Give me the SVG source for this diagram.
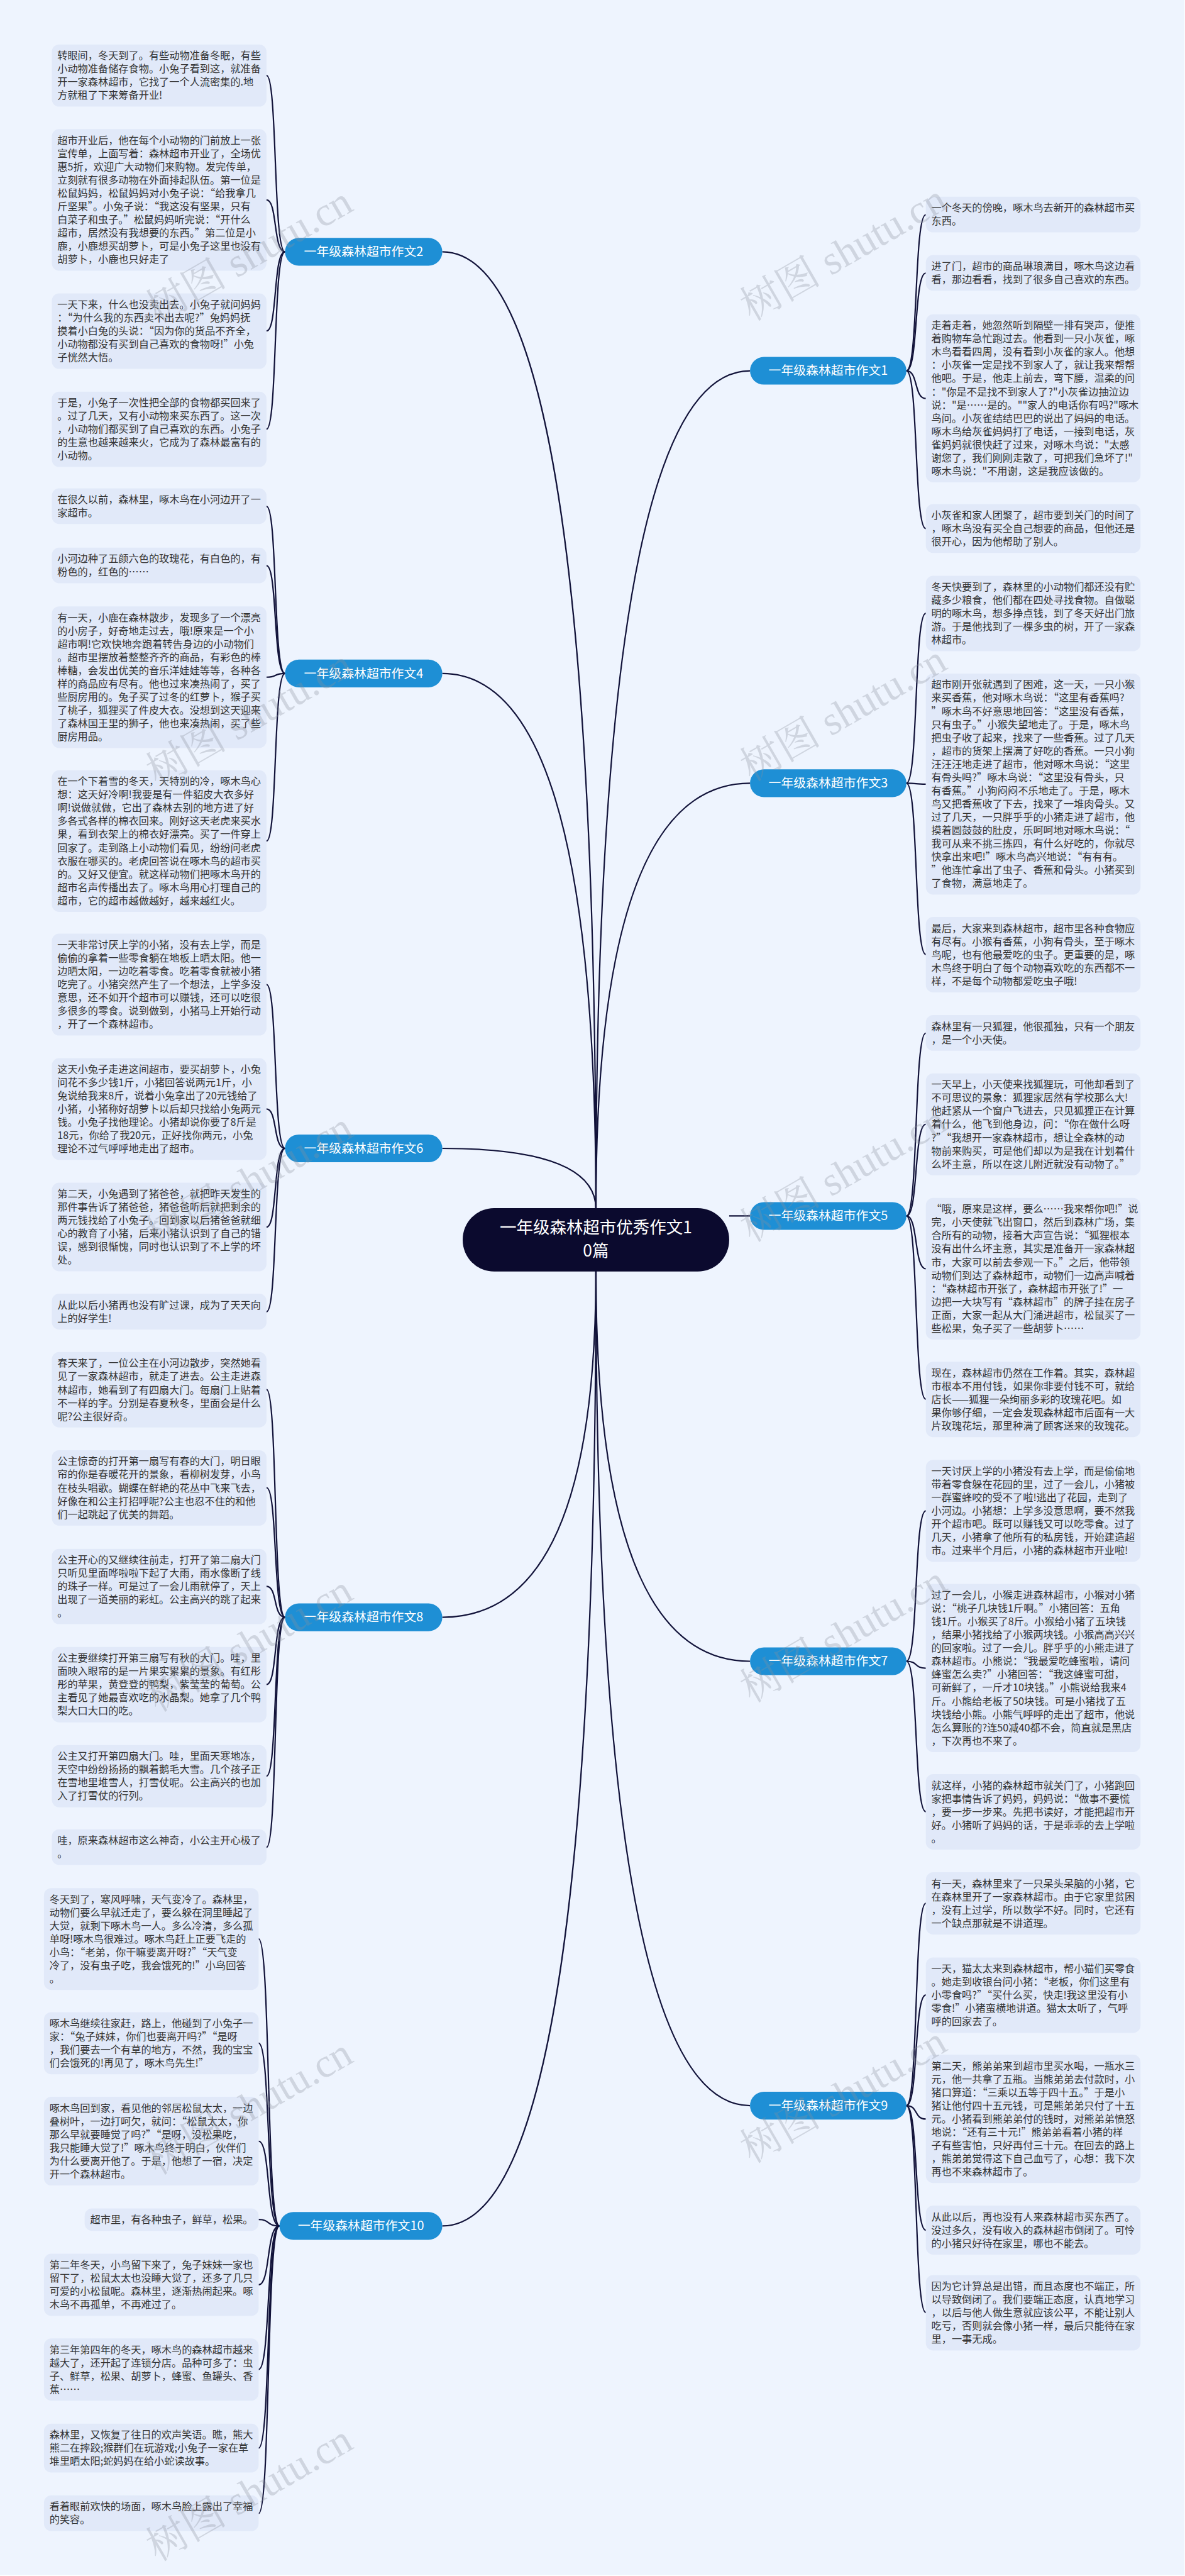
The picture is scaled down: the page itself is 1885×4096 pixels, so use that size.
<svg xmlns="http://www.w3.org/2000/svg" width="1885" height="4096" viewBox="0 0 1885 4096">
<style>
.bg{fill:#eef4fe}
.box{fill:#e1e9f9}
.t{font-family:"Noto Sans CJK SC","Noto Sans",sans-serif;font-size:22px;fill:#333333}
.pill{fill:#1e8fd5}
.pt{font-family:"Noto Sans CJK SC","Noto Sans",sans-serif;font-size:27px;fill:#ffffff;text-anchor:middle}
.cn{fill:#0b0a2e}
.ct{font-family:"Noto Sans CJK SC","Noto Sans",sans-serif;font-size:36px;fill:#ffffff;text-anchor:middle}
.ln{fill:none;stroke:#12133a;stroke-width:3}
.wm{font-family:"Liberation Serif","Noto Serif CJK SC","Noto Sans CJK SC",serif;font-size:88px;fill:#8a909c;opacity:0.3}
</style>
<g transform="scale(0.736)">
<rect class="bg" x="0" y="0" width="2560" height="5563"/>
<g id="connectors">
<path class="ln" d="M956,544 C1149,544 1288,1061 1288,2612"/>
<path class="ln" d="M956,1455 C1149,1455 1288,1744 1288,2612"/>
<path class="ln" d="M956,2481 C1149,2481 1288,2514 1288,2612"/>
<path class="ln" d="M1621,801 C1428,801 1288,1254 1288,2612"/>
<path class="ln" d="M1621,1692 C1428,1692 1288,1922 1288,2612"/>
<path class="ln" d="M1576,2627 L1621,2627"/>
<path class="ln" d="M956,3494 C1149,3494 1288,3307 1288,2745"/>
<path class="ln" d="M956,4809 C1149,4809 1288,4293 1288,2745"/>
<path class="ln" d="M1621,3589 C1428,3589 1288,3378 1288,2745"/>
<path class="ln" d="M1621,4549 C1428,4549 1288,4098 1288,2745"/>
<path class="ln" d="M616,544 C590,544 600,163 576,163"/>
<path class="ln" d="M616,544 C590,544 600,432 576,432"/>
<path class="ln" d="M616,544 C590,544 600,715 576,715"/>
<path class="ln" d="M616,544 C590,544 600,927 576,927"/>
<path class="ln" d="M616,1455 C590,1455 600,1094 576,1094"/>
<path class="ln" d="M616,1455 C590,1455 600,1222 576,1222"/>
<path class="ln" d="M616,1455 C590,1455 600,1463 576,1463"/>
<path class="ln" d="M616,1455 C590,1455 600,1817 576,1817"/>
<path class="ln" d="M616,2481 C590,2481 600,2127 576,2127"/>
<path class="ln" d="M616,2481 C590,2481 600,2396 576,2396"/>
<path class="ln" d="M616,2481 C590,2481 600,2651 576,2651"/>
<path class="ln" d="M616,2481 C590,2481 600,2834 576,2834"/>
<path class="ln" d="M616,3494 C590,3494 600,3002 576,3002"/>
<path class="ln" d="M616,3494 C590,3494 600,3214 576,3214"/>
<path class="ln" d="M616,3494 C590,3494 600,3427 576,3427"/>
<path class="ln" d="M616,3494 C590,3494 600,3639 576,3639"/>
<path class="ln" d="M616,3494 C590,3494 600,3837 576,3837"/>
<path class="ln" d="M616,3494 C590,3494 600,3991 576,3991"/>
<path class="ln" d="M604,4809 C575,4809 585,4189 559,4189"/>
<path class="ln" d="M604,4809 C575,4809 585,4414 559,4414"/>
<path class="ln" d="M604,4809 C575,4809 585,4626 559,4626"/>
<path class="ln" d="M604,4809 C575,4809 585,4795 559,4795"/>
<path class="ln" d="M604,4809 C575,4809 585,4936 559,4936"/>
<path class="ln" d="M604,4809 C575,4809 585,5119 559,5119"/>
<path class="ln" d="M604,4809 C575,4809 585,5289 559,5289"/>
<path class="ln" d="M604,4809 C575,4809 585,5430 559,5430"/>
<path class="ln" d="M1959,801 C1985,801 1975,464 2001,464"/>
<path class="ln" d="M1959,801 C1985,801 1975,590 2001,590"/>
<path class="ln" d="M1959,801 C1985,801 1975,861 2001,861"/>
<path class="ln" d="M1959,801 C1985,801 1975,1142 2001,1142"/>
<path class="ln" d="M1959,1692 C1985,1692 1975,1325 2001,1325"/>
<path class="ln" d="M1959,1692 C1985,1692 1975,1694 2001,1694"/>
<path class="ln" d="M1959,1692 C1985,1692 1975,2062 2001,2062"/>
<path class="ln" d="M1959,2627 C1985,2627 1975,2232 2001,2232"/>
<path class="ln" d="M1959,2627 C1985,2627 1975,2429 2001,2429"/>
<path class="ln" d="M1959,2627 C1985,2627 1975,2741 2001,2741"/>
<path class="ln" d="M1959,2627 C1985,2627 1975,3023 2001,3023"/>
<path class="ln" d="M1959,3589 C1985,3589 1975,3264 2001,3264"/>
<path class="ln" d="M1959,3589 C1985,3589 1975,3604 2001,3604"/>
<path class="ln" d="M1959,3589 C1985,3589 1975,3914 2001,3914"/>
<path class="ln" d="M1959,4549 C1985,4549 1975,4112 2001,4112"/>
<path class="ln" d="M1959,4549 C1985,4549 1975,4310 2001,4310"/>
<path class="ln" d="M1959,4549 C1985,4549 1975,4578 2001,4578"/>
<path class="ln" d="M1959,4549 C1985,4549 1975,4818 2001,4818"/>
<path class="ln" d="M1959,4549 C1985,4549 1975,4996 2001,4996"/>
</g>
<g id="root"><rect class="cn" x="1000" y="2610" width="576" height="137" rx="68"/><text class="ct" x="1288" y="2664">一年级森林超市优秀作文1</text><text class="ct" x="1288" y="2714">0篇</text></g>
<g id="b2"><rect class="pill" x="616" y="514" width="340" height="60" rx="30"/><text class="pt" x="786" y="553">一年级森林超市作文2</text></g>
<g id="b4"><rect class="pill" x="616" y="1425" width="340" height="60" rx="30"/><text class="pt" x="786" y="1464">一年级森林超市作文4</text></g>
<g id="b6"><rect class="pill" x="616" y="2451" width="340" height="60" rx="30"/><text class="pt" x="786" y="2490">一年级森林超市作文6</text></g>
<g id="b8"><rect class="pill" x="616" y="3464" width="340" height="60" rx="30"/><text class="pt" x="786" y="3503">一年级森林超市作文8</text></g>
<g id="b10"><rect class="pill" x="604" y="4779" width="352" height="60" rx="30"/><text class="pt" x="780" y="4818">一年级森林超市作文10</text></g>
<g id="b1"><rect class="pill" x="1621" y="771" width="338" height="60" rx="30"/><text class="pt" x="1790" y="810">一年级森林超市作文1</text></g>
<g id="b3"><rect class="pill" x="1621" y="1662" width="338" height="60" rx="30"/><text class="pt" x="1790" y="1701">一年级森林超市作文3</text></g>
<g id="b5"><rect class="pill" x="1621" y="2597" width="338" height="60" rx="30"/><text class="pt" x="1790" y="2636">一年级森林超市作文5</text></g>
<g id="b7"><rect class="pill" x="1621" y="3559" width="338" height="60" rx="30"/><text class="pt" x="1790" y="3598">一年级森林超市作文7</text></g>
<g id="b9"><rect class="pill" x="1621" y="4519" width="338" height="60" rx="30"/><text class="pt" x="1790" y="4558">一年级森林超市作文9</text></g>

<g id="a1"><rect class="box" x="112" y="96" width="464" height="134.4" rx="16"/><text class="t" y="128"><tspan x="124">转眼间，冬天到了。有些动物准备冬眠，有些</tspan><tspan x="124" dy="28.6">小动物准备储存食物。小兔子看到这，就准备</tspan><tspan x="124" dy="28.6">开一家森林超市，它找了一个人流密集的.地</tspan><tspan x="124" dy="28.6">方就租了下来筹备开业!</tspan></text></g>
<g id="a2"><rect class="box" x="112" y="279" width="464" height="306" rx="16"/><text class="t" y="311"><tspan x="124">超市开业后，他在每个小动物的门前放上一张</tspan><tspan x="124" dy="28.6">宣传单，上面写着：森林超市开业了，全场优</tspan><tspan x="124" dy="28.6">惠5折，欢迎广大动物们来购物。发完传单，</tspan><tspan x="124" dy="28.6">立刻就有很多动物在外面排起队伍。第一位是</tspan><tspan x="124" dy="28.6">松鼠妈妈，松鼠妈妈对小兔子说：“给我拿几</tspan><tspan x="124" dy="28.6">斤坚果”。小兔子说：“我这没有坚果，只有</tspan><tspan x="124" dy="28.6">白菜子和虫子。”松鼠妈妈听完说：“开什么</tspan><tspan x="124" dy="28.6">超市，居然没有我想要的东西。”第二位是小</tspan><tspan x="124" dy="28.6">鹿，小鹿想买胡萝卜，可是小兔子这里也没有</tspan><tspan x="124" dy="28.6">胡萝卜，小鹿也只好走了</tspan></text></g>
<g id="a3"><rect class="box" x="112" y="634" width="464" height="163" rx="16"/><text class="t" y="666"><tspan x="124">一天下来，什么也没卖出去。小兔子就问妈妈</tspan><tspan x="124" dy="28.6">：“为什么我的东西卖不出去呢?”兔妈妈抚</tspan><tspan x="124" dy="28.6">摸着小白兔的头说：“因为你的货品不齐全，</tspan><tspan x="124" dy="28.6">小动物都没有买到自己喜欢的食物呀!”小兔</tspan><tspan x="124" dy="28.6">子恍然大悟。</tspan></text></g>
<g id="a4"><rect class="box" x="112" y="846" width="464" height="163" rx="16"/><text class="t" y="878"><tspan x="124">于是，小兔子一次性把全部的食物都买回来了</tspan><tspan x="124" dy="28.6">。过了几天，又有小动物来买东西了。这一次</tspan><tspan x="124" dy="28.6">，小动物们都买到了自己喜欢的东西。小兔子</tspan><tspan x="124" dy="28.6">的生意也越来越来火，它成为了森林最富有的</tspan><tspan x="124" dy="28.6">小动物。</tspan></text></g>

<g id="c4a"><rect class="box" x="112" y="1055" width="464" height="77.2" rx="16"/><text class="t" y="1087"><tspan x="124">在很久以前，森林里，啄木鸟在小河边开了一</tspan><tspan x="124" dy="28.6">家超市。</tspan></text></g>
<g id="c4b"><rect class="box" x="112" y="1183" width="464" height="77.2" rx="16"/><text class="t" y="1215"><tspan x="124">小河边种了五颜六色的玫瑰花，有白色的，有</tspan><tspan x="124" dy="28.6">粉色的，红色的……</tspan></text></g>
<g id="c4c"><rect class="box" x="112" y="1310" width="464" height="306" rx="16"/><text class="t" y="1342"><tspan x="124">有一天，小鹿在森林散步，发现多了一个漂亮</tspan><tspan x="124" dy="28.6">的小房子，好奇地走过去，哦!原来是一个小</tspan><tspan x="124" dy="28.6">超市啊!它欢快地奔跑着转告身边的小动物们</tspan><tspan x="124" dy="28.6">。超市里摆放着整整齐齐的商品，有彩色的棒</tspan><tspan x="124" dy="28.6">棒糖，会发出优美的音乐洋娃娃等等，各种各</tspan><tspan x="124" dy="28.6">样的商品应有尽有。他也过来凑热闹了，买了</tspan><tspan x="124" dy="28.6">些厨房用的。兔子买了过冬的红萝卜，猴子买</tspan><tspan x="124" dy="28.6">了桃子，狐狸买了件皮大衣。没想到这天迎来</tspan><tspan x="124" dy="28.6">了森林国王里的狮子，他也来凑热闹，买了些</tspan><tspan x="124" dy="28.6">厨房用品。</tspan></text></g>
<g id="c4d"><rect class="box" x="112" y="1664" width="464" height="306" rx="16"/><text class="t" y="1696"><tspan x="124">在一个下着雪的冬天，天特别的冷，啄木鸟心</tspan><tspan x="124" dy="28.6">想：这天好冷啊!我要是有一件貂皮大衣多好</tspan><tspan x="124" dy="28.6">啊!说做就做，它出了森林去别的地方进了好</tspan><tspan x="124" dy="28.6">多各式各样的棉衣回来。刚好这天老虎来买水</tspan><tspan x="124" dy="28.6">果，看到衣架上的棉衣好漂亮。买了一件穿上</tspan><tspan x="124" dy="28.6">回家了。走到路上小动物们看见，纷纷问老虎</tspan><tspan x="124" dy="28.6">衣服在哪买的。老虎回答说在啄木鸟的超市买</tspan><tspan x="124" dy="28.6">的。又好又便宜。就这样动物们把啄木鸟开的</tspan><tspan x="124" dy="28.6">超市名声传播出去了。啄木鸟用心打理自己的</tspan><tspan x="124" dy="28.6">超市，它的超市越做越好，越来越红火。</tspan></text></g>

<g id="c6a"><rect class="box" x="112" y="2017" width="464" height="220.2" rx="16"/><text class="t" y="2049"><tspan x="124">一天非常讨厌上学的小猪，没有去上学，而是</tspan><tspan x="124" dy="28.6">偷偷的拿着一些零食躺在地板上晒太阳。他一</tspan><tspan x="124" dy="28.6">边晒太阳，一边吃着零食。吃着零食就被小猪</tspan><tspan x="124" dy="28.6">吃完了。小猪突然产生了一个想法，上学多没</tspan><tspan x="124" dy="28.6">意思，还不如开个超市可以赚钱，还可以吃很</tspan><tspan x="124" dy="28.6">多很多的零食。说到做到，小猪马上开始行动</tspan><tspan x="124" dy="28.6">，开了一个森林超市。</tspan></text></g>
<g id="c6b"><rect class="box" x="112" y="2286" width="464" height="220.2" rx="16"/><text class="t" y="2318"><tspan x="124">这天小兔子走进这间超市，要买胡萝卜，小兔</tspan><tspan x="124" dy="28.6">问花不多少钱1斤，小猪回答说两元1斤，小</tspan><tspan x="124" dy="28.6">兔说给我来8斤，说着小兔拿出了20元钱给了</tspan><tspan x="124" dy="28.6">小猪，小猪称好胡萝卜以后却只找给小兔两元</tspan><tspan x="124" dy="28.6">钱。小兔子找他理论。小猪却说你要了8斤是</tspan><tspan x="124" dy="28.6">18元，你给了我20元，正好找你两元，小兔</tspan><tspan x="124" dy="28.6">理论不过气呼呼地走出了超市。</tspan></text></g>
<g id="c6c"><rect class="box" x="112" y="2555" width="464" height="191.6" rx="16"/><text class="t" y="2587"><tspan x="124">第二天，小兔遇到了猪爸爸，就把昨天发生的</tspan><tspan x="124" dy="28.6">那件事告诉了猪爸爸，猪爸爸听后就把剩余的</tspan><tspan x="124" dy="28.6">两元钱找给了小兔子。回到家以后猪爸爸就细</tspan><tspan x="124" dy="28.6">心的教育了小猪，后来小猪认识到了自己的错</tspan><tspan x="124" dy="28.6">误，感到很惭愧，同时也认识到了不上学的坏</tspan><tspan x="124" dy="28.6">处。</tspan></text></g>
<g id="c6d"><rect class="box" x="112" y="2795" width="464" height="77.2" rx="16"/><text class="t" y="2827"><tspan x="124">从此以后小猪再也没有旷过课，成为了天天向</tspan><tspan x="124" dy="28.6">上的好学生!</tspan></text></g>

<g id="c8a"><rect class="box" x="112" y="2921" width="464" height="163" rx="16"/><text class="t" y="2953"><tspan x="124">春天来了，一位公主在小河边散步，突然她看</tspan><tspan x="124" dy="28.6">见了一家森林超市，就走了进去。公主走进森</tspan><tspan x="124" dy="28.6">林超市，她看到了有四扇大门。每扇门上贴着</tspan><tspan x="124" dy="28.6">不一样的字。分别是春夏秋冬，里面会是什么</tspan><tspan x="124" dy="28.6">呢?公主很好奇。</tspan></text></g>
<g id="c8b"><rect class="box" x="112" y="3133" width="464" height="163" rx="16"/><text class="t" y="3165"><tspan x="124">公主惊奇的打开第一扇写有春的大门，明日眼</tspan><tspan x="124" dy="28.6">帘的你是春暖花开的景象，看柳树发芽，小鸟</tspan><tspan x="124" dy="28.6">在枝头唱歌。蝴蝶在鲜艳的花丛中飞来飞去，</tspan><tspan x="124" dy="28.6">好像在和公主打招呼呢?公主也忍不住的和他</tspan><tspan x="124" dy="28.6">们一起跳起了优美的舞蹈。</tspan></text></g>
<g id="c8c"><rect class="box" x="112" y="3346" width="464" height="163" rx="16"/><text class="t" y="3378"><tspan x="124">公主开心的又继续往前走，打开了第二扇大门</tspan><tspan x="124" dy="28.6">只听见里面哗啦啦下起了大雨，雨水像断了线</tspan><tspan x="124" dy="28.6">的珠子一样。可是过了一会儿雨就停了，天上</tspan><tspan x="124" dy="28.6">出现了一道美丽的彩虹。公主高兴的跳了起来</tspan><tspan x="124" dy="28.6">。</tspan></text></g>
<g id="c8d"><rect class="box" x="112" y="3558" width="464" height="163" rx="16"/><text class="t" y="3590"><tspan x="124">公主要继续打开第三扇写有秋的大门。哇，里</tspan><tspan x="124" dy="28.6">面映入眼帘的是一片果实累累的景象。有红彤</tspan><tspan x="124" dy="28.6">彤的苹果，黄登登的鸭梨，紫莹莹的葡萄。公</tspan><tspan x="124" dy="28.6">主看见了她最喜欢吃的水晶梨。她拿了几个鸭</tspan><tspan x="124" dy="28.6">梨大口大口的吃。</tspan></text></g>
<g id="c8e"><rect class="box" x="112" y="3770" width="464" height="134.4" rx="16"/><text class="t" y="3802"><tspan x="124">公主又打开第四扇大门。哇，里面天寒地冻，</tspan><tspan x="124" dy="28.6">天空中纷纷扬扬的飘着鹅毛大雪。几个孩子正</tspan><tspan x="124" dy="28.6">在雪地里堆雪人，打雪仗呢。公主高兴的也加</tspan><tspan x="124" dy="28.6">入了打雪仗的行列。</tspan></text></g>
<g id="c8f"><rect class="box" x="112" y="3952" width="464" height="77.2" rx="16"/><text class="t" y="3984"><tspan x="124">哇，原来森林超市这么神奇，小公主开心极了</tspan><tspan x="124" dy="28.6">。</tspan></text></g>

<g id="c10a"><rect class="box" x="95" y="4079" width="464" height="220.2" rx="16"/><text class="t" y="4111"><tspan x="107">冬天到了，寒风呼啸，天气变冷了。森林里，</tspan><tspan x="107" dy="28.6">动物们要么早就迁走了，要么躲在洞里睡起了</tspan><tspan x="107" dy="28.6">大觉，就剩下啄木鸟一人。多么冷清，多么孤</tspan><tspan x="107" dy="28.6">单呀!啄木鸟很难过。啄木鸟赶上正要飞走的</tspan><tspan x="107" dy="28.6">小鸟：“老弟，你干嘛要离开呀?”“天气变</tspan><tspan x="107" dy="28.6">冷了，没有虫子吃，我会饿死的!”小鸟回答</tspan><tspan x="107" dy="28.6">。</tspan></text></g>
<g id="c10b"><rect class="box" x="95" y="4347" width="464" height="134.4" rx="16"/><text class="t" y="4379"><tspan x="107">啄木鸟继续往家赶，路上，他碰到了小兔子一</tspan><tspan x="107" dy="28.6">家：“兔子妹妹，你们也要离开吗?”“是呀</tspan><tspan x="107" dy="28.6">，我们要去一个有草的地方，不然，我的宝宝</tspan><tspan x="107" dy="28.6">们会饿死的!再见了，啄木鸟先生!”</tspan></text></g>
<g id="c10c"><rect class="box" x="95" y="4530" width="464" height="191.6" rx="16"/><text class="t" y="4562"><tspan x="107">啄木鸟回到家，看见他的邻居松鼠太太，一边</tspan><tspan x="107" dy="28.6">叠树叶，一边打呵欠，就问：“松鼠太太，你</tspan><tspan x="107" dy="28.6">那么早就要睡觉了吗?”“是呀，没松果吃，</tspan><tspan x="107" dy="28.6">我只能睡大觉了!”啄木鸟终于明白，伙伴们</tspan><tspan x="107" dy="28.6">为什么要离开他了。于是，他想了一宿，决定</tspan><tspan x="107" dy="28.6">开一个森林超市。</tspan></text></g>
<g id="c10d"><rect class="box" x="183" y="4771" width="376" height="48.6" rx="16"/><text class="t" y="4803"><tspan x="195">超市里，有各种虫子，鲜草，松果。</tspan></text></g>
<g id="c10e"><rect class="box" x="95" y="4869" width="464" height="134.4" rx="16"/><text class="t" y="4901"><tspan x="107">第二年冬天，小鸟留下来了，兔子妹妹一家也</tspan><tspan x="107" dy="28.6">留下了，松鼠太太也没睡大觉了，还多了几只</tspan><tspan x="107" dy="28.6">可爱的小松鼠呢。森林里，逐渐热闹起来。啄</tspan><tspan x="107" dy="28.6">木鸟不再孤单，不再难过了。</tspan></text></g>
<g id="c10f"><rect class="box" x="95" y="5052" width="464" height="134.4" rx="16"/><text class="t" y="5084"><tspan x="107">第三年第四年的冬天，啄木鸟的森林超市越来</tspan><tspan x="107" dy="28.6">越大了，还开起了连锁分店。品种可多了：虫</tspan><tspan x="107" dy="28.6">子、鲜草，松果、胡萝卜，蜂蜜、鱼罐头、香</tspan><tspan x="107" dy="28.6">蕉……</tspan></text></g>
<g id="c10g"><rect class="box" x="95" y="5236" width="464" height="105.8" rx="16"/><text class="t" y="5268"><tspan x="107">森林里，又恢复了往日的欢声笑语。瞧，熊大</tspan><tspan x="107" dy="28.6">熊二在摔跤;猴群们在玩游戏;小兔子一家在草</tspan><tspan x="107" dy="28.6">堆里晒太阳;蛇妈妈在给小蛇读故事。</tspan></text></g>
<g id="c10h"><rect class="box" x="95" y="5391" width="464" height="77.2" rx="16"/><text class="t" y="5423"><tspan x="107">看着眼前欢快的场面，啄木鸟脸上露出了幸福</tspan><tspan x="107" dy="28.6">的笑容。</tspan></text></g>

<g id="c1a"><rect class="box" x="2001" y="425" width="464" height="77.2" rx="16"/><text class="t" y="457"><tspan x="2013">一个冬天的傍晚，啄木鸟去新开的森林超市买</tspan><tspan x="2013" dy="28.6">东西。</tspan></text></g>
<g id="c1b"><rect class="box" x="2001" y="551" width="464" height="77.2" rx="16"/><text class="t" y="583"><tspan x="2013">进了门，超市的商品琳琅满目，啄木鸟这边看</tspan><tspan x="2013" dy="28.6">看，那边看看，找到了很多自己喜欢的东西。</tspan></text></g>
<g id="c1c"><rect class="box" x="2001" y="679" width="464" height="363.2" rx="16"/><text class="t" y="711"><tspan x="2013">走着走着，她忽然听到隔壁一排有哭声，便推</tspan><tspan x="2013" dy="28.6">着购物车急忙跑过去。他看到一只小灰雀，啄</tspan><tspan x="2013" dy="28.6">木鸟看看四周，没有看到小灰雀的家人。他想</tspan><tspan x="2013" dy="28.6">：小灰雀一定是找不到家人了，就让我来帮帮</tspan><tspan x="2013" dy="28.6">他吧。于是，他走上前去，弯下腰，温柔的问</tspan><tspan x="2013" dy="28.6">："你是不是找不到家人了?"小灰雀边抽泣边</tspan><tspan x="2013" dy="28.6">说："是……是的。""家人的电话你有吗?"啄木</tspan><tspan x="2013" dy="28.6">鸟问。小灰雀结结巴巴的说出了妈妈的电话。</tspan><tspan x="2013" dy="28.6">啄木鸟给灰雀妈妈打了电话，一接到电话，灰</tspan><tspan x="2013" dy="28.6">雀妈妈就很快赶了过来，对啄木鸟说："太感</tspan><tspan x="2013" dy="28.6">谢您了，我们刚刚走散了，可把我们急坏了!"</tspan><tspan x="2013" dy="28.6">啄木鸟说："不用谢，这是我应该做的。</tspan></text></g>
<g id="c1d"><rect class="box" x="2001" y="1089" width="464" height="105.8" rx="16"/><text class="t" y="1121"><tspan x="2013">小灰雀和家人团聚了，超市要到关门的时间了</tspan><tspan x="2013" dy="28.6">，啄木鸟没有买全自己想要的商品，但他还是</tspan><tspan x="2013" dy="28.6">很开心，因为他帮助了别人。</tspan></text></g>

<g id="c3a"><rect class="box" x="2001" y="1244" width="464" height="163" rx="16"/><text class="t" y="1276"><tspan x="2013">冬天快要到了，森林里的小动物们都还没有贮</tspan><tspan x="2013" dy="28.6">藏多少粮食，他们都在四处寻找食物。自做聪</tspan><tspan x="2013" dy="28.6">明的啄木鸟，想多挣点钱，到了冬天好出门旅</tspan><tspan x="2013" dy="28.6">游。于是他找到了一棵多虫的树，开了一家森</tspan><tspan x="2013" dy="28.6">林超市。</tspan></text></g>
<g id="c3b"><rect class="box" x="2001" y="1455" width="464" height="477.6" rx="16"/><text class="t" y="1487"><tspan x="2013">超市刚开张就遇到了困难，这一天，一只小猴</tspan><tspan x="2013" dy="28.6">来买香蕉，他对啄木鸟说：“这里有香蕉吗?</tspan><tspan x="2013" dy="28.6">”啄木鸟不好意思地回答：“这里没有香蕉，</tspan><tspan x="2013" dy="28.6">只有虫子。”小猴失望地走了。于是，啄木鸟</tspan><tspan x="2013" dy="28.6">把虫子收了起来，找来了一些香蕉。过了几天</tspan><tspan x="2013" dy="28.6">，超市的货架上摆满了好吃的香蕉。一只小狗</tspan><tspan x="2013" dy="28.6">汪汪汪地走进了超市，他对啄木鸟说：“这里</tspan><tspan x="2013" dy="28.6">有骨头吗?”啄木鸟说：“这里没有骨头，只</tspan><tspan x="2013" dy="28.6">有香蕉。”小狗闷闷不乐地走了。于是，啄木</tspan><tspan x="2013" dy="28.6">鸟又把香蕉收了下去，找来了一堆肉骨头。又</tspan><tspan x="2013" dy="28.6">过了几天，一只胖乎乎的小猪走进了超市，他</tspan><tspan x="2013" dy="28.6">摸着圆鼓鼓的肚皮，乐呵呵地对啄木鸟说：“</tspan><tspan x="2013" dy="28.6">我可从来不挑三拣四，有什么好吃的，你就尽</tspan><tspan x="2013" dy="28.6">快拿出来吧!”啄木鸟高兴地说：“有有有。</tspan><tspan x="2013" dy="28.6">”他连忙拿出了虫子、香蕉和骨头。小猪买到</tspan><tspan x="2013" dy="28.6">了食物，满意地走了。</tspan></text></g>
<g id="c3c"><rect class="box" x="2001" y="1981" width="464" height="163" rx="16"/><text class="t" y="2013"><tspan x="2013">最后，大家来到森林超市，超市里各种食物应</tspan><tspan x="2013" dy="28.6">有尽有。小猴有香蕉，小狗有骨头，至于啄木</tspan><tspan x="2013" dy="28.6">鸟呢，也有他最爱吃的虫子。更重要的是，啄</tspan><tspan x="2013" dy="28.6">木鸟终于明白了每个动物喜欢吃的东西都不一</tspan><tspan x="2013" dy="28.6">样，不是每个动物都爱吃虫子哦!</tspan></text></g>

<g id="c5a"><rect class="box" x="2001" y="2193" width="464" height="77.2" rx="16"/><text class="t" y="2225"><tspan x="2013">森林里有一只狐狸，他很孤独，只有一个朋友</tspan><tspan x="2013" dy="28.6">，是一个小天使。</tspan></text></g>
<g id="c5b"><rect class="box" x="2001" y="2319" width="464" height="220.2" rx="16"/><text class="t" y="2351"><tspan x="2013">一天早上，小天使来找狐狸玩，可他却看到了</tspan><tspan x="2013" dy="28.6">不可思议的景象：狐狸家居然有学校那么大!</tspan><tspan x="2013" dy="28.6">他赶紧从一个窗户飞进去，只见狐狸正在计算</tspan><tspan x="2013" dy="28.6">着什么，他飞到他身边，问：“你在做什么呀</tspan><tspan x="2013" dy="28.6">?”“我想开一家森林超市，想让全森林的动</tspan><tspan x="2013" dy="28.6">物前来购买，可是他们却以为是我在计划着什</tspan><tspan x="2013" dy="28.6">么坏主意，所以在这儿附近就没有动物了。”</tspan></text></g>
<g id="c5c"><rect class="box" x="2001" y="2588" width="464" height="306" rx="16"/><text class="t" y="2620"><tspan x="2013">“哦，原来是这样，要么……我来帮你吧!”说</tspan><tspan x="2013" dy="28.6">完，小天使就飞出窗口，然后到森林广场，集</tspan><tspan x="2013" dy="28.6">合所有的动物，接着大声宣告说：“狐狸根本</tspan><tspan x="2013" dy="28.6">没有出什么坏主意，其实是准备开一家森林超</tspan><tspan x="2013" dy="28.6">市，大家可以前去参观一下。”之后，他带领</tspan><tspan x="2013" dy="28.6">动物们到达了森林超市，动物们一边高声喊着</tspan><tspan x="2013" dy="28.6">：“森林超市开张了，森林超市开张了!”一</tspan><tspan x="2013" dy="28.6">边把一大块写有“森林超市”的牌子挂在房子</tspan><tspan x="2013" dy="28.6">正面，大家一起从大门涌进超市，松鼠买了一</tspan><tspan x="2013" dy="28.6">些松果，兔子买了一些胡萝卜……</tspan></text></g>
<g id="c5d"><rect class="box" x="2001" y="2942" width="464" height="163" rx="16"/><text class="t" y="2974"><tspan x="2013">现在，森林超市仍然在工作着。其实，森林超</tspan><tspan x="2013" dy="28.6">市根本不用付钱，如果你非要付钱不可，就给</tspan><tspan x="2013" dy="28.6">店长——狐狸一朵绚丽多彩的玫瑰花吧。如</tspan><tspan x="2013" dy="28.6">果你够仔细，一定会发现森林超市后面有一大</tspan><tspan x="2013" dy="28.6">片玫瑰花坛，那里种满了顾客送来的玫瑰花。</tspan></text></g>

<g id="c7a"><rect class="box" x="2001" y="3154" width="464" height="220.2" rx="16"/><text class="t" y="3186"><tspan x="2013">一天讨厌上学的小猪没有去上学，而是偷偷地</tspan><tspan x="2013" dy="28.6">带着零食躲在花园的里，过了一会儿，小猪被</tspan><tspan x="2013" dy="28.6">一群蜜蜂咬的受不了啦!逃出了花园，走到了</tspan><tspan x="2013" dy="28.6">小河边。小猪想：上学多没意思啊，要不然我</tspan><tspan x="2013" dy="28.6">开个超市吧。既可以赚钱又可以吃零食。过了</tspan><tspan x="2013" dy="28.6">几天，小猪拿了他所有的私房钱，开始建造超</tspan><tspan x="2013" dy="28.6">市。过来半个月后，小猪的森林超市开业啦!</tspan></text></g>
<g id="c7b"><rect class="box" x="2001" y="3422" width="464" height="363.2" rx="16"/><text class="t" y="3454"><tspan x="2013">过了一会儿，小猴走进森林超市，小猴对小猪</tspan><tspan x="2013" dy="28.6">说：“桃子几块钱1斤啊。”小猪回答：五角</tspan><tspan x="2013" dy="28.6">钱1斤。小猴买了8斤。小猴给小猪了五块钱</tspan><tspan x="2013" dy="28.6">，结果小猪找给了小猴两块钱。小猴高高兴兴</tspan><tspan x="2013" dy="28.6">的回家啦。过了一会儿。胖乎乎的小熊走进了</tspan><tspan x="2013" dy="28.6">森林超市。小熊说：“我最爱吃蜂蜜啦，请问</tspan><tspan x="2013" dy="28.6">蜂蜜怎么卖?”小猪回答：“我这蜂蜜可甜，</tspan><tspan x="2013" dy="28.6">可新鲜了，一斤才10块钱。”小熊说给我来4</tspan><tspan x="2013" dy="28.6">斤。小熊给老板了50块钱。可是小猪找了五</tspan><tspan x="2013" dy="28.6">块钱给小熊。小熊气呼呼的走出了超市，他说</tspan><tspan x="2013" dy="28.6">怎么算账的?连50减40都不会，简直就是黑店</tspan><tspan x="2013" dy="28.6">，下次再也不来了。</tspan></text></g>
<g id="c7c"><rect class="box" x="2001" y="3833" width="464" height="163" rx="16"/><text class="t" y="3865"><tspan x="2013">就这样，小猪的森林超市就关门了，小猪跑回</tspan><tspan x="2013" dy="28.6">家把事情告诉了妈妈，妈妈说：“做事不要慌</tspan><tspan x="2013" dy="28.6">，要一步一步来。先把书读好，才能把超市开</tspan><tspan x="2013" dy="28.6">好。小猪听了妈妈的话，于是乖乖的去上学啦</tspan><tspan x="2013" dy="28.6">。</tspan></text></g>

<g id="c9a"><rect class="box" x="2001" y="4045" width="464" height="134.4" rx="16"/><text class="t" y="4077"><tspan x="2013">有一天，森林里来了一只呆头呆脑的小猪，它</tspan><tspan x="2013" dy="28.6">在森林里开了一家森林超市。由于它家里贫困</tspan><tspan x="2013" dy="28.6">，没有上过学，所以数学不好。同时，它还有</tspan><tspan x="2013" dy="28.6">一个缺点那就是不讲道理。</tspan></text></g>
<g id="c9b"><rect class="box" x="2001" y="4229" width="464" height="163" rx="16"/><text class="t" y="4261"><tspan x="2013">一天，猫太太来到森林超市，帮小猫们买零食</tspan><tspan x="2013" dy="28.6">。她走到收银台问小猪：“老板，你们这里有</tspan><tspan x="2013" dy="28.6">小零食吗?”“买什么买，快走!我这里没有小</tspan><tspan x="2013" dy="28.6">零食!”小猪蛮横地讲道。猫太太听了，气呼</tspan><tspan x="2013" dy="28.6">呼的回家去了。</tspan></text></g>
<g id="c9c"><rect class="box" x="2001" y="4439" width="464" height="277.4" rx="16"/><text class="t" y="4471"><tspan x="2013">第二天，熊弟弟来到超市里买水喝，一瓶水三</tspan><tspan x="2013" dy="28.6">元，他一共拿了五瓶。当熊弟弟去付款时，小</tspan><tspan x="2013" dy="28.6">猪口算道：“三乘以五等于四十五。”于是小</tspan><tspan x="2013" dy="28.6">猪让他付四十五元钱，可是熊弟弟只付了十五</tspan><tspan x="2013" dy="28.6">元。小猪看到熊弟弟付的钱时，对熊弟弟愤怒</tspan><tspan x="2013" dy="28.6">地说：“还有三十元!”熊弟弟看着小猪的样</tspan><tspan x="2013" dy="28.6">子有些害怕，只好再付三十元。在回去的路上</tspan><tspan x="2013" dy="28.6">，熊弟弟觉得这下自己血亏了，心想：我下次</tspan><tspan x="2013" dy="28.6">再也不来森林超市了。</tspan></text></g>
<g id="c9d"><rect class="box" x="2001" y="4765" width="464" height="105.8" rx="16"/><text class="t" y="4797"><tspan x="2013">从此以后，再也没有人来森林超市买东西了。</tspan><tspan x="2013" dy="28.6">没过多久，没有收入的森林超市倒闭了。可怜</tspan><tspan x="2013" dy="28.6">的小猪只好待在家里，哪也不能去。</tspan></text></g>
<g id="c9e"><rect class="box" x="2001" y="4915" width="464" height="163" rx="16"/><text class="t" y="4947"><tspan x="2013">因为它计算总是出错，而且态度也不端正，所</tspan><tspan x="2013" dy="28.6">以导致倒闭了。我们要端正态度，认真地学习</tspan><tspan x="2013" dy="28.6">，以后与他人做生意就应该公平，不能让别人</tspan><tspan x="2013" dy="28.6">吃亏，否则就会像小猪一样，最后只能待在家</tspan><tspan x="2013" dy="28.6">里，一事无成。</tspan></text></g>

<g id="watermarks">
<text class="wm" transform="translate(340,700) rotate(-30)">树图 shutu.cn</text>
<text class="wm" transform="translate(340,1700) rotate(-30)">树图 shutu.cn</text>
<text class="wm" transform="translate(340,2700) rotate(-30)">树图 shutu.cn</text>
<text class="wm" transform="translate(340,3700) rotate(-30)">树图 shutu.cn</text>
<text class="wm" transform="translate(340,4700) rotate(-30)">树图 shutu.cn</text>
<text class="wm" transform="translate(340,5535) rotate(-30)">树图 shutu.cn</text>
<text class="wm" transform="translate(1624,695) rotate(-30)">树图 shutu.cn</text>
<text class="wm" transform="translate(1624,1690) rotate(-30)">树图 shutu.cn</text>
<text class="wm" transform="translate(1624,2685) rotate(-30)">树图 shutu.cn</text>
<text class="wm" transform="translate(1624,3680) rotate(-30)">树图 shutu.cn</text>
<text class="wm" transform="translate(1624,4675) rotate(-30)">树图 shutu.cn</text>
</g>
</g>
</svg>
